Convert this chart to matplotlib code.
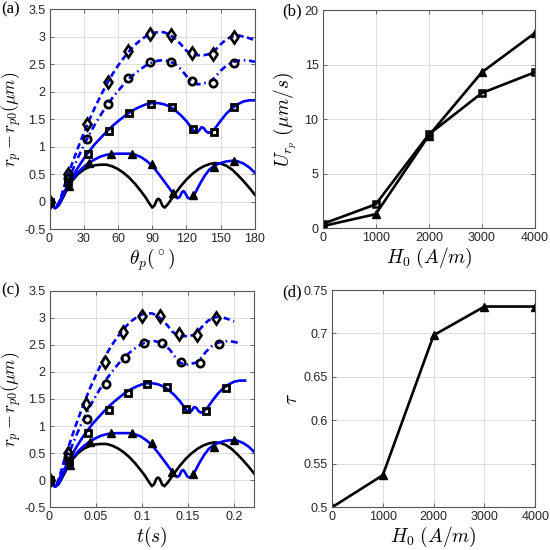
import numpy as np
import matplotlib
matplotlib.use('Agg')
import matplotlib.pyplot as plt

plt.rcParams['font.family'] = ['Liberation Sans', 'DejaVu Sans']
plt.rcParams['mathtext.fontset'] = 'cm'

# black curve (no markers)
th_k = [0, 2, 5, 8, 10, 13, 16, 20, 25, 30, 35, 40, 45, 50, 55, 60, 65, 70, 75, 80, 84, 87, 90,
        92, 94, 95.5, 97, 99, 101, 104, 107, 110, 115, 120, 125, 130, 135, 140, 145, 150, 155,
        160, 165, 170, 175, 180]
r_k = [0, -0.07, -0.12, -0.07, 0.0, 0.12, 0.25, 0.38, 0.50, 0.58, 0.63, 0.66, 0.67, 0.67, 0.64,
       0.59, 0.52, 0.43, 0.32, 0.19, 0.08, -0.02, -0.11, -0.07, 0.03, 0.05, 0.02, -0.08, -0.11,
       -0.04, 0.05, 0.14, 0.28, 0.40, 0.50, 0.58, 0.64, 0.68, 0.70, 0.69, 0.65, 0.58, 0.48, 0.37,
       0.25, 0.12]

# blue solid, triangles
th_tri = [0, 2, 5, 8, 10, 13, 16, 20, 25, 30, 35, 40, 45, 50, 55, 60, 65, 70, 75, 80, 85, 90, 95,
          100, 105, 109, 112, 114, 116, 117.5, 119, 121, 123, 125, 128, 132, 136, 140, 145, 150,
          155, 160, 165, 170, 175, 180]
r_tri = [0, -0.07, -0.12, -0.07, 0.02, 0.15, 0.27, 0.40, 0.53, 0.63, 0.71, 0.77, 0.82, 0.85,
         0.865, 0.87, 0.87, 0.87, 0.85, 0.81, 0.74, 0.65, 0.52, 0.38, 0.24, 0.12, 0.06, 0.08, 0.17,
         0.19, 0.15, 0.07, 0.05, 0.08, 0.17, 0.33, 0.47, 0.58, 0.66, 0.70, 0.73, 0.74, 0.73, 0.69,
         0.62, 0.52]

# blue solid, squares
th_sq = [0, 2, 5, 8, 10, 13, 16, 20, 25, 30, 35, 40, 45, 50, 55, 60, 65, 70, 75, 80, 85, 90, 95,
         100, 105, 110, 115, 120, 124, 127, 129, 131, 133, 135, 137, 139, 141, 145, 150, 155, 160,
         165, 170, 175, 180]
r_sq = [0, -0.07, -0.12, -0.06, 0.03, 0.17, 0.30, 0.45, 0.62, 0.78, 0.92, 1.05, 1.16, 1.27, 1.37,
        1.46, 1.54, 1.62, 1.68, 1.73, 1.77, 1.79, 1.79, 1.77, 1.73, 1.66, 1.57, 1.46, 1.35, 1.27,
        1.25, 1.29, 1.35, 1.34, 1.28, 1.25, 1.26, 1.33, 1.47, 1.60, 1.70, 1.77, 1.82, 1.84, 1.84]

# blue dash-dot, circles
th_ci = [0, 2, 5, 8, 10, 13, 16, 20, 25, 30, 35, 40, 45, 50, 55, 60, 65, 70, 75, 80, 85, 90, 95,
         100, 105, 110, 115, 120, 125, 130, 135, 140, 145, 150, 155, 160, 165, 170, 175, 180]
r_ci = [0, -0.06, -0.11, -0.05, 0.05, 0.22, 0.38, 0.56, 0.80, 1.02, 1.22, 1.41, 1.58, 1.74, 1.88,
        2.01, 2.13, 2.24, 2.33, 2.41, 2.48, 2.53, 2.56, 2.57, 2.55, 2.50, 2.41, 2.28, 2.17, 2.13,
        2.15, 2.17, 2.26, 2.38, 2.47, 2.53, 2.56, 2.57, 2.56, 2.54]

# blue dashed, diamonds
th_di = [0, 2, 5, 8, 10, 13, 16, 20, 25, 30, 35, 40, 45, 50, 55, 60, 65, 70, 75, 80, 85, 90, 95,
         100, 105, 110, 115, 120, 125, 130, 135, 140, 145, 150, 155, 160, 165, 170, 175, 180]
r_di = [0, -0.05, -0.10, -0.03, 0.08, 0.28, 0.48, 0.70, 0.98, 1.24, 1.49, 1.72, 1.93, 2.13, 2.31,
        2.47, 2.61, 2.74, 2.85, 2.94, 3.01, 3.06, 3.08, 3.08, 3.04, 2.96, 2.86, 2.74, 2.68, 2.66,
        2.66, 2.68, 2.75, 2.86, 2.95, 3.00, 3.02, 3.00, 2.97, 2.93]

# time that corresponds to theta = 180 deg for each curve (panel c)
T_end = {'k': 0.222, 'tri': 0.222, 'sq': 0.212, 'ci': 0.204, 'di': 0.200}

# markers, panel (a)
mth_di = [0, 16, 33, 51, 69, 88, 106, 125, 143, 162]
mr_di = [0, 0.50, 1.41, 2.18, 2.73, 3.04, 3.03, 2.70, 2.69, 2.99]
mth_ci = [0, 16, 33, 51, 69, 88, 106, 125, 143, 162]
mr_ci = [0, 0.42, 1.13, 1.77, 2.25, 2.53, 2.53, 2.19, 2.16, 2.52]
mth_sq = [0, 16.5, 34, 52, 70, 89, 107, 126, 144, 162]
mr_sq = [0, 0.36, 0.87, 1.29, 1.61, 1.78, 1.72, 1.32, 1.27, 1.71]
mth_tri = [0, 17.5, 35, 54, 72, 90, 108, 126, 144, 162]
mr_tri = [0, 0.28, 0.70, 0.87, 0.87, 0.68, 0.15, 0.12, 0.62, 0.74]

# markers, panel (c)
mt_di = [0, 0.020, 0.040, 0.060, 0.080, 0.100, 0.120, 0.140, 0.160, 0.180]
mt_ci = [0, 0.020, 0.041, 0.061, 0.082, 0.102, 0.122, 0.143, 0.163, 0.184]
mt_sq = [0, 0.021, 0.042, 0.064, 0.085, 0.106, 0.127, 0.148, 0.170, 0.191]
mt_tri = [0, 0.022, 0.044, 0.067, 0.089, 0.111, 0.133, 0.155, 0.178, 0.200]

# panel (b), (d)
H0 = [0, 1000, 2000, 3000, 4000]
U_tri = [0.2, 1.3, 8.5, 14.3, 17.9]
U_sq = [0.4, 2.2, 8.6, 12.4, 14.3]
tau = [0.500, 0.537, 0.698, 0.731, 0.731]

blue = (0, 0, 1)
lw = 1.9
axcol = '#555555'


def style(ax):
    ax.grid(True, color='#dcdcdc', linewidth=0.7)
    ax.set_axisbelow(True)
    for s in ax.spines.values():
        s.set_color(axcol)
        s.set_linewidth(0.8)
    ax.tick_params(direction='in', length=3, width=0.6, color=axcol, labelsize=9,
                   labelcolor='#262626', top=True, right=True, pad=3)


def curves(ax, xs):
    ax.plot(xs['k'], r_k, color='k', lw=lw)
    ax.plot(xs['tri'], r_tri, color=blue, lw=lw)
    ax.plot(xs['sq'], r_sq, color=blue, lw=lw)
    ax.plot(xs['ci'], r_ci, color=blue, lw=lw, dashes=(2.6, 1.4, 0.6, 1.4))
    ax.plot(xs['di'], r_di, color=blue, lw=lw, dashes=(2.4, 1.4))


def markers(ax, mx):
    ax.plot(mx['di'], mr_di, ls='none', marker='d', ms=6, mfc='none', mec='k', mew=1.9)
    ax.plot(mx['ci'], mr_ci, ls='none', marker='o', ms=5.3, mfc='none', mec='k', mew=1.9)
    ax.plot(mx['sq'], mr_sq, ls='none', marker='s', ms=4.8, mfc='none', mec='k', mew=2.0)
    ax.plot(mx['tri'], mr_tri, ls='none', marker='^', ms=6.3, mfc='k', mec='k', mew=1)


fig = plt.figure(figsize=(5.5, 5.5), dpi=100)
ax_a = fig.add_axes([0.09, 0.5836, 0.3736, 0.4])
ax_b = fig.add_axes([0.5867, 0.5849, 0.386, 0.3969])
ax_c = fig.add_axes([0.09, 0.0776, 0.3724, 0.3939])
ax_d = fig.add_axes([0.6036, 0.0776, 0.3697, 0.3951])

ylab = r'$r_p - r_{p0}(\mu m)$'
rticks = [-0.5, 0, 0.5, 1, 1.5, 2, 2.5, 3, 3.5]
rlabels = ['-0.5', '0', '0.5', '1', '1.5', '2', '2.5', '3', '3.5']

# (a)
th = {'k': th_k, 'tri': th_tri, 'sq': th_sq, 'ci': th_ci, 'di': th_di}
curves(ax_a, th)
markers(ax_a, {'di': mth_di, 'ci': mth_ci, 'sq': mth_sq, 'tri': mth_tri})
ax_a.set_xlim(0, 180)
ax_a.set_ylim(-0.5, 3.5)
ax_a.set_xticks([0, 30, 60, 90, 120, 150, 180])
ax_a.set_yticks(rticks)
ax_a.set_yticklabels(rlabels)
ax_a.set_xlabel(r'$\theta_p(^\circ)$', fontsize=14, labelpad=1)
ax_a.set_ylabel(ylab, fontsize=12.5)
ax_a.yaxis.set_label_coords(-0.125, 0.5)
style(ax_a)

# (c)
tt = {k: np.array(v) / 180.0 * T_end[k] for k, v in th.items()}
curves(ax_c, tt)
markers(ax_c, {'di': mt_di, 'ci': mt_ci, 'sq': mt_sq, 'tri': mt_tri})
ax_c.set_xlim(0, 0.222)
ax_c.set_ylim(-0.5, 3.5)
ax_c.set_xticks([0, 0.05, 0.1, 0.15, 0.2])
ax_c.set_xticklabels(['0', '0.05', '0.1', '0.15', '0.2'])
ax_c.set_yticks(rticks)
ax_c.set_yticklabels(rlabels)
ax_c.set_xlabel(r'$t(s)$', fontsize=14, labelpad=1)
ax_c.set_ylabel(ylab, fontsize=12.5)
ax_c.yaxis.set_label_coords(-0.125, 0.5)
style(ax_c)

# (b)
ax_b.plot(H0, U_tri, color='k', lw=lw, marker='^', ms=6.3, mfc='k')
ax_b.plot(H0, U_sq, color='k', lw=lw, marker='s', ms=4.8, mfc='none', mew=1.8)
ax_b.set_xlim(0, 4000)
ax_b.set_ylim(0, 20)
ax_b.set_xticks(H0)
ax_b.set_yticks([0, 5, 10, 15, 20])
ax_b.set_xlabel(r'$H_0\ (A/m)$', fontsize=14, labelpad=1)
ax_b.set_ylabel(r'$U_{r_p}\ (\mu m/s)$', fontsize=14, labelpad=4)
style(ax_b)

# (d)
ax_d.plot(H0, tau, color='k', lw=lw, marker='^', ms=6.3, mfc='k')
ax_d.set_xlim(0, 4000)
ax_d.set_ylim(0.5, 0.75)
ax_d.set_xticks(H0)
ax_d.set_yticks([0.5, 0.55, 0.6, 0.65, 0.7, 0.75])
ax_d.set_yticklabels(['0.5', '0.55', '0.6', '0.65', '0.7', '0.75'])
ax_d.set_xlabel(r'$H_0\ (A/m)$', fontsize=14, labelpad=1)
ax_d.set_ylabel(r'$\tau$', fontsize=14, labelpad=2)
style(ax_d)

for s, x, y in [('(a)', 0.003, 0.983), ('(b)', 0.514, 0.98), ('(c)', 0.003, 0.472), ('(d)', 0.514, 0.468)]:
    fig.text(x, y, s, fontsize=12, family='Liberation Serif', va='center', ha='left')

fig.savefig('out.png', dpi=100)
